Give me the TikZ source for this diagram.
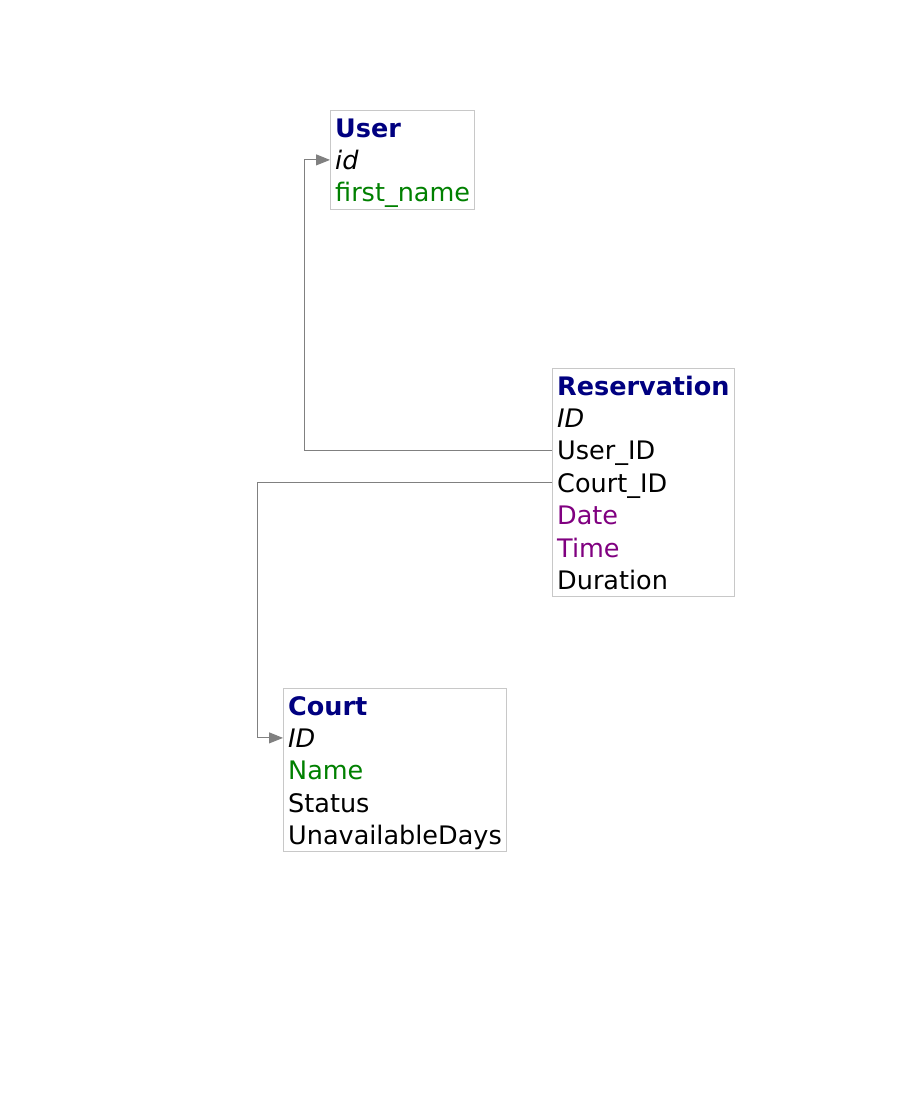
\documentclass[tikz,border=0pt]{standalone}
\usepackage{fontspec}
\setmainfont{DejaVu Sans}
\usepackage{tikz}
\usetikzlibrary{arrows.meta,positioning,fit}
\definecolor{tblnavy}{RGB}{0,0,128}
\definecolor{keygreen}{RGB}{0,128,0}
\definecolor{datepurple}{RGB}{128,0,128}
\definecolor{boxgray}{RGB}{200,200,200}
\definecolor{linkgray}{RGB}{128,128,128}

\begin{document}
\begin{tikzpicture}[x=1pt,y=-1pt,
    field/.style={anchor=base west,inner sep=0pt,text height=22pt,text depth=3pt,
        font=\fontsize{25.5}{30}\selectfont},
    tblname/.style={field,text=tblnavy,font=\fontsize{25.5}{30}\selectfont\bfseries},
    tblbox/.style={draw=boxgray,line width=1pt,inner xsep=4.5pt,inner ysep=4pt},
    fk/.style={draw=linkgray,line width=1pt,-{Triangle[length=14pt,width=11pt]}}]

    \useasboundingbox (0,0) rectangle (902,1096);

    % User table
    \node[tblname] (u0) at (335,137) {User};
    \node[field] (uid) at (335,169.4) {\itshape id};
    \node[field,text=keygreen] (ufn) at (335,201.8) {first\_name};
    \node[tblbox,fit=(u0)(uid)(ufn)] (user) {};

    % Reservation table
    \node[tblname] (r0) at (557,395) {Reservation};
    \node[field] (rid) at (557,427.4) {\itshape ID};
    \node[field] (ruid) at (557,459.8) {User\_ID};
    \node[field] (rcid) at (557,492.2) {Court\_ID};
    \node[field,text=datepurple] (rdate) at (557,524.6) {Date};
    \node[field,text=datepurple] (rtime) at (557,557) {Time};
    \node[field] (rdur) at (557,589.4) {Duration};
    \node[tblbox,fit=(r0)(rid)(ruid)(rcid)(rdate)(rtime)(rdur)] (res) {};

    % Court table
    \node[tblname] (c0) at (288,715) {Court};
    \node[field] (cid) at (288,747.4) {\itshape ID};
    \node[field,text=keygreen] (cname) at (288,779.8) {Name};
    \node[field] (cstat) at (288,812.2) {Status};
    \node[field] (cdays) at (288,844.6) {UnavailableDays};
    \node[tblbox,fit=(c0)(cid)(cname)(cstat)(cdays)] (court) {};

    % foreign keys
    \coordinate (ubend) at ([xshift=-26pt]user.west);
    \coordinate (cbend) at ([xshift=-26pt]court.west);
    \draw[fk] (ruid.west -| res.west) -- (ubend |- ruid.west) |- (uid.west -| user.west);
    \draw[fk] (rcid.west -| res.west) -- (cbend |- rcid.west) |- (cid.west -| court.west);

\end{tikzpicture}
\end{document}
